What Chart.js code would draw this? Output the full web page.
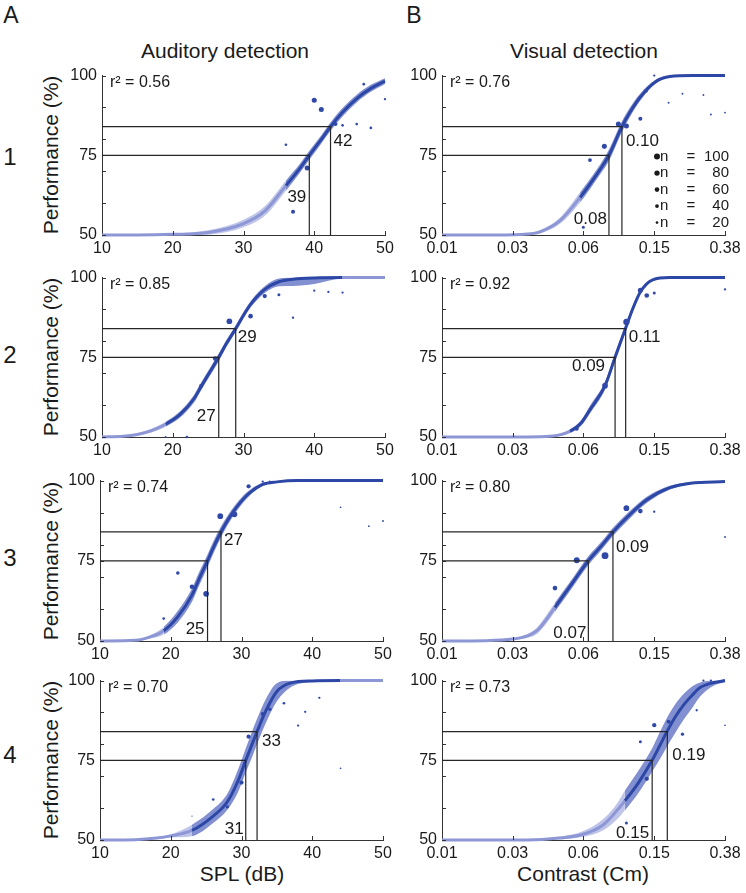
<!doctype html>
<html lang="en">
<head>
<meta charset="utf-8">
<title>Auditory and visual detection</title>
<script src="https://cdn.jsdelivr.net/npm/chart.js"></script>
<style>
  body { margin: 0; background: #fff; width: 746px; height: 893px; position: relative; overflow: hidden;
         font-family: "Liberation Sans", Arial, sans-serif; color: #1a1a1a; }
  .t { position: absolute; white-space: nowrap; transform: translate(-50%, -50%); line-height: 1; }
  .rot { transform: translate(-50%, -50%) rotate(-90deg); }
  canvas { position: absolute; }
</style>
</head>
<body>
<div class="t" style="left:11px;top:15px;font-size:23px">A</div>
<div class="t" style="left:414px;top:15px;font-size:23px">B</div>
<div class="t" style="left:225px;top:50px;font-size:21px">Auditory detection</div>
<div class="t" style="left:584px;top:50px;font-size:21px">Visual detection</div>

<div class="t" style="left:10px;top:157px;font-size:24px">1</div>
<div class="t" style="left:10px;top:355px;font-size:24px">2</div>
<div class="t" style="left:10px;top:558px;font-size:24px">3</div>
<div class="t" style="left:10px;top:755px;font-size:24px">4</div>

<div class="t rot" style="left:50px;top:155px;font-size:21px">Performance (%)</div>
<div class="t rot" style="left:50px;top:357px;font-size:21px">Performance (%)</div>
<div class="t rot" style="left:50px;top:561px;font-size:21px">Performance (%)</div>
<div class="t rot" style="left:50px;top:760px;font-size:21px">Performance (%)</div>

<div class="t" style="left:242px;top:873px;font-size:21px">SPL (dB)</div>
<div class="t" style="left:583px;top:873px;font-size:21px">Contrast (Cm)</div>

<script>
// ---- axes ----
var audTicks = [10, 20, 30, 40, 50];
var visTicks = [0.01, 0.0248, 0.0616, 0.153, 0.38];
var visTickLabels = ['0.01', '0.03', '0.06', '0.15', '0.38'];
var yTicks = [50, 60, 70, 75, 80, 90, 100];
var yTickLabels = ['50', '', '', '75', '', '', '100'];
var levels = [75, 84];

// ---- A1 ----
var a1PtX = [36, 37, 39, 40, 41, 43, 44, 46, 47, 48, 50];
var a1PtY = [78.3, 57.3, 71.0, 92.3, 89.4, 84.8, 84.4, 84.8, 97.3, 83.6, 92.6];
var a1PtN = [20, 45, 70, 70, 70, 45, 20, 20, 20, 20, 15];
var a1FitX = [10, 15, 20, 25, 30, 33, 36, 38, 39.3, 41, 42.3, 44, 46, 48, 50];
var a1Fit = [50, 50, 50.2, 50.8, 53.6, 57.5, 65.5, 71, 75, 80, 84, 88.5, 92.8, 96, 98.3];
var a1Lo = [49.9, 49.9, 49.9, 50.1, 52.4, 56, 63.9, 69.6, 73.6, 78.7, 82.7, 87.2, 91.6, 94.9, 97.4];
var a1Hi = [50.1, 50.1, 50.5, 51.5, 54.8, 59, 67.1, 72.4, 76.4, 81.3, 85.3, 89.8, 94, 97.1, 99.2];
var a1Thr = [39.3, 42.3];
var a1ThrText = ['39', '42'];

// ---- A2 ----
var a2PtX = [19, 22, 24, 26, 28, 31, 33, 35, 37, 40, 42, 44];
var a2PtY = [50, 50, 66.0, 74.6, 86.3, 87.9, 94.2, 94.6, 87.4, 95.9, 95.5, 95.3];
var a2PtN = [10, 20, 45, 60, 90, 60, 50, 25, 15, 15, 15, 15];
var a2FitX = [10, 13, 15, 17, 19, 21, 23, 24, 25, 26.5, 27.5, 28.9, 30, 31, 33, 35, 37, 40, 44, 50];
var a2Fit = [50, 50.2, 50.8, 52, 54, 57, 62, 65.8, 69.5, 75, 79, 84, 88.2, 91.6, 96.3, 98.7, 99.5, 99.9, 100, 100];
var a2Lo = [49.9, 50, 50.4, 51.4, 53.2, 56, 60.8, 64.6, 68.3, 73.8, 77.9, 83, 87.2, 90.6, 95.2, 97.3, 97.4, 98, 99.7, 99.9];
var a2Hi = [50.1, 50.4, 51.2, 52.6, 54.8, 58, 63.2, 67, 70.7, 76.2, 80.1, 85, 89.2, 92.6, 97.3, 99.7, 100, 100, 100, 100];
var a2Thr = [26.5, 28.9];
var a2ThrText = ['27', '29'];

// ---- A3 ----
var a3PtX = [19, 21, 23, 25, 27, 29, 31, 33, 34, 44, 48, 50];
var a3PtY = [57.0, 71.2, 66.9, 64.7, 88.9, 89.5, 98.2, 99.7, 99.7, 91.7, 85.8, 87.4];
var a3PtN = [20, 35, 60, 90, 90, 90, 50, 15, 10, 8, 8, 10];
var a3FitX = [10, 15, 17, 19, 21, 23, 24, 25.2, 26, 27.1, 29, 31, 33, 35, 38, 50];
var a3Fit = [50, 50.2, 51.2, 53.2, 57.6, 64.3, 69.3, 75, 79, 84, 90.8, 95.9, 98.8, 99.6, 100, 100];
var a3Lo = [49.9, 50, 50.7, 52, 55.8, 62.2, 67.2, 73, 77.1, 82.3, 89.5, 95, 98.3, 99.4, 99.9, 100];
var a3Hi = [50.1, 50.4, 51.7, 54.4, 59.4, 66.4, 71.4, 77, 80.9, 85.7, 92.1, 96.8, 99.3, 99.9, 100, 100];
var a3Thr = [25.2, 27.1];
var a3ThrText = ['25', '27'];

// ---- A4 ----
var a4PtX = [23, 26, 28, 30, 31, 33, 34, 36, 38, 39, 41, 44];
var a4PtY = [57.5, 62.7, 60.4, 68.0, 82.4, 89.5, 91.0, 92.9, 85.9, 90.2, 94.6, 72.5];
var a4PtN = [5, 20, 30, 50, 50, 45, 35, 20, 15, 15, 15, 8];
var a4FitX = [10, 15, 18, 20, 23, 26, 28, 29.5, 30.6, 31.4, 32.2, 33.5, 35, 37, 40, 44, 50];
var a4Fit = [50, 50.1, 50.6, 51.3, 53, 57.5, 62, 68.5, 75, 79.5, 84, 90.8, 96.6, 99.3, 99.9, 100, 100];
var a4Lo = [50, 50, 50.3, 50.8, 51.2, 55.3, 59.5, 65, 71.2, 75.5, 80, 87, 93.5, 98, 99.6, 99.9, 100];
var a4Hi = [50, 50.2, 50.9, 51.8, 54.8, 59.7, 64.5, 72, 78.8, 83.5, 88, 94.5, 99.2, 100, 100, 100, 100];
var a4Thr = [30.6, 32.2];
var a4ThrText = ['31', '33'];

// ---- B1 ----
var b1PtX = [0.0615, 0.067, 0.0806, 0.0965, 0.107, 0.128, 0.138, 0.153, 0.184, 0.22, 0.288, 0.317, 0.38];
var b1PtY = [52.4, 73.5, 77.8, 84.8, 84.2, 86.5, 95.2, 100, 91.5, 94.3, 93.9, 87.8, 88.4];
var b1PtN = [25, 40, 70, 70, 70, 45, 30, 15, 10, 10, 10, 10, 10];
var b1FitX = [0.01, 0.02, 0.03, 0.0352, 0.0456, 0.059, 0.0762, 0.0855, 0.101, 0.112, 0.128, 0.155, 0.187, 0.25, 0.38];
var b1Fit = [50, 50, 50.3, 51, 54.5, 61.8, 70.5, 75, 84, 88.5, 93.3, 98, 99.7, 100, 100];
var b1Lo = [50, 50, 50.1, 50.5, 53.5, 60.2, 69, 73.2, 82.3, 87, 92.2, 97.4, 99.4, 99.9, 99.9];
var b1Hi = [50, 50.1, 50.6, 51.5, 55.5, 63.4, 72, 76.8, 85.7, 90, 94.4, 98.6, 100, 100, 100];
var b1Thr = [0.0855, 0.101];
var b1ThrText = ['0.08', '0.10'];

// ---- B2 ----
var b2PtX = [0.0565, 0.0813, 0.107, 0.128, 0.139, 0.153, 0.38];
var b2PtY = [52.6, 66.1, 86.1, 96.0, 94.4, 95.2, 96.3];
var b2PtN = [45, 90, 110, 70, 60, 25, 15];
var b2FitX = [0.01, 0.03, 0.04, 0.0518, 0.06, 0.067, 0.0813, 0.0925, 0.106, 0.117, 0.128, 0.15, 0.187, 0.25, 0.38];
var b2Fit = [50, 50, 50.2, 51.8, 54.5, 58.6, 66.1, 75, 84.2, 90.7, 95.5, 99.3, 100, 100, 100];
var b2Lo = [50, 50, 50, 51.2, 53.6, 57.4, 64.9, 73.8, 83, 89.7, 94.8, 99, 99.9, 100, 100];
var b2Hi = [50, 50, 50.4, 52.4, 55.4, 59.8, 67.3, 76.2, 85.4, 91.7, 96.2, 99.6, 100, 100, 100];
var b2Thr = [0.0925, 0.106];
var b2ThrText = ['0.09', '0.11'];

// ---- B3 ----
var b3PtX = [0.0427, 0.0565, 0.0813, 0.107, 0.128, 0.139, 0.153, 0.38];
var b3PtY = [66.5, 75.2, 76.6, 91.4, 90.5, 94.0, 90.3, 82.4];
var b3PtN = [60, 100, 130, 90, 60, 30, 15, 10];
var b3FitX = [0.01, 0.0175, 0.0248, 0.03, 0.0339, 0.038, 0.0427, 0.0518, 0.0656, 0.078, 0.09, 0.109, 0.139, 0.187, 0.244, 0.38];
var b3Fit = [50, 50.1, 50.6, 51.6, 53.2, 56.5, 60.5, 67, 75, 79.8, 84, 88.8, 94, 97.8, 99.2, 99.7];
var b3Lo = [49.9, 50, 50.3, 51, 52.2, 55.2, 59.1, 65.6, 73.6, 78.5, 82.7, 87.6, 93, 97.2, 98.9, 99.5];
var b3Hi = [50.1, 50.2, 50.9, 52.2, 54.2, 57.8, 61.9, 68.4, 76.4, 81.1, 85.3, 90, 95, 98.4, 99.5, 99.9];
var b3Thr = [0.0656, 0.090];
var b3ThrText = ['0.07', '0.09'];

// ---- B4 ----
var b4PtX = [0.107, 0.128, 0.139, 0.153, 0.184, 0.22, 0.264, 0.288, 0.317, 0.38];
var b4PtY = [55.3, 80.8, 69.2, 86.0, 87.1, 83.2, 90.7, 100, 100, 86.0];
var b4PtN = [25, 25, 50, 50, 45, 30, 15, 15, 15, 8];
var b4FitX = [0.01, 0.03, 0.045, 0.0615, 0.0792, 0.095, 0.105, 0.124, 0.149, 0.165, 0.181, 0.2, 0.225, 0.25, 0.276, 0.33, 0.38];
var b4Fit = [50, 50, 50.6, 51.8, 54.7, 59.3, 62.3, 67.7, 75, 79.8, 84.2, 88.5, 92.6, 95.5, 97.8, 99.4, 100];
var b4Lo = [50, 50, 50.2, 51, 53, 56.5, 59.3, 64.5, 71.5, 75.5, 79.5, 83.5, 88, 91.5, 95, 98.5, 99.5];
var b4Hi = [50, 50, 51, 52.8, 56.5, 61.5, 65.5, 71.5, 78.8, 84, 88.5, 92.5, 96, 98.2, 99.4, 100, 100];
var b4Thr = [0.149, 0.181];
var b4ThrText = ['0.15', '0.19'];

var r2Text = ['0.56', '0.76', '0.85', '0.92', '0.74', '0.80', '0.70', '0.73'];
var legendN = [100, 80, 60, 40, 20];

// ---- styles / layout ----
var FONT = '"Liberation Sans", Arial, sans-serif';
var DARK_LINE = '#2c47a5';
var LIGHT_LINE = '#8e97d5';
var DARK_BAND = '#8290d2';
var LIGHT_BAND = '#bfc5e9';
var POINT = '#3049a8';
var AXIS = '#333333';
var YW = 60, XH = 32, PADT = 14, PADR = 24;

function radius(n) { return 0.3 * Math.sqrt(n); }
function pts(xs, ys) { return xs.map(function (x, i) { return {x: x, y: ys[i]}; }); }

var panels = [
  {box: [102, 385, 75, 235], log: false, px: a1PtX, py: a1PtY, pn: a1PtN, fx: a1FitX, fy: a1Fit, lo: a1Lo, hi: a1Hi,
   thr: a1Thr, thrText: a1ThrText, dark: [36, 50], labY: [61.7, 79.5], labDx: [-3, 3], r2: r2Text[0]},
  {box: [442, 725, 75, 235], log: true, px: b1PtX, py: b1PtY, pn: b1PtN, fx: b1FitX, fy: b1Fit, lo: b1Lo, hi: b1Hi,
   thr: b1Thr, thrText: b1ThrText, dark: [0.059, 0.38], labY: [55, 79.5], labDx: [-2, 4], r2: r2Text[1], legend: true},
  {box: [102, 385, 277, 437], log: false, px: a2PtX, py: a2PtY, pn: a2PtN, fx: a2FitX, fy: a2Fit, lo: a2Lo, hi: a2Hi,
   thr: a2Thr, thrText: a2ThrText, dark: [19, 44], labY: [56.5, 81.4], labDx: [-3, 2], r2: r2Text[2]},
  {box: [442, 725, 277, 437], log: true, px: b2PtX, py: b2PtY, pn: b2PtN, fx: b2FitX, fy: b2Fit, lo: b2Lo, hi: b2Hi,
   thr: b2Thr, thrText: b2ThrText, dark: [0.0518, 0.38], labY: [72.3, 81.2], labDx: [-10, 3], r2: r2Text[3]},
  {box: [100, 383, 480, 641], log: false, px: a3PtX, py: a3PtY, pn: a3PtN, fx: a3FitX, fy: a3Fit, lo: a3Lo, hi: a3Hi,
   thr: a3Thr, thrText: a3ThrText, dark: [19, 50], labY: [53.6, 81.4], labDx: [-3, 3], r2: r2Text[4]},
  {box: [442, 725, 480, 641], log: true, px: b3PtX, py: b3PtY, pn: b3PtN, fx: b3FitX, fy: b3Fit, lo: b3Lo, hi: b3Hi,
   thr: b3Thr, thrText: b3ThrText, dark: [0.0427, 0.38], labY: [52.5, 79.3], labDx: [-2, 3], r2: r2Text[5]},
  {box: [100, 383, 680, 840], log: false, px: a4PtX, py: a4PtY, pn: a4PtN, fx: a4FitX, fy: a4Fit, lo: a4Lo, hi: a4Hi,
   thr: a4Thr, thrText: a4ThrText, dark: [23, 44], labY: [53.3, 80.9], labDx: [-2, 5], r2: r2Text[6]},
  {box: [442, 725, 680, 840], log: true, px: b4PtX, py: b4PtY, pn: b4PtN, fx: b4FitX, fy: b4Fit, lo: b4Lo, hi: b4Hi,
   thr: b4Thr, thrText: b4ThrText, dark: [0.105, 0.38], labY: [52, 76.6], labDx: [-3, 5], r2: r2Text[7]}
];

// inward ticks, threshold guides, labels, r2 and the n-legend
var extras = {
  id: 'extras',
  afterDatasetsDraw: function (chart, args, o) {
    var ctx = chart.ctx, a = chart.chartArea, x = chart.scales.x, y = chart.scales.y;
    ctx.save();
    ctx.strokeStyle = AXIS;
    ctx.lineWidth = 1;
    ctx.beginPath();
    y.ticks.forEach(function (t) {
      var py = Math.round(y.getPixelForValue(t.value)) + 0.5;
      ctx.moveTo(a.left, py); ctx.lineTo(a.left + 4, py);
    });
    x.ticks.forEach(function (t, i) {
      if (i === 0) return;
      var px = Math.round(x.getPixelForValue(t.value)) + 0.5;
      ctx.moveTo(px, a.bottom); ctx.lineTo(px, a.bottom - 4);
    });
    ctx.stroke();

    ctx.strokeStyle = '#262626';
    ctx.lineWidth = 1.2;
    ctx.beginPath();
    o.thr.forEach(function (tx, i) {
      var px = x.getPixelForValue(tx), py = y.getPixelForValue(levels[i]);
      ctx.moveTo(a.left, py); ctx.lineTo(px, py); ctx.lineTo(px, a.bottom);
    });
    ctx.stroke();

    ctx.fillStyle = '#1a1a1a';
    ctx.textBaseline = 'middle';
    ctx.font = '17px ' + FONT;
    ctx.textAlign = 'right';
    ctx.fillText(o.thrText[0], x.getPixelForValue(o.thr[0]) + o.labDx[0], y.getPixelForValue(o.labY[0]));
    ctx.textAlign = 'left';
    ctx.fillText(o.thrText[1], x.getPixelForValue(o.thr[1]) + o.labDx[1], y.getPixelForValue(o.labY[1]));

    ctx.font = '16px ' + FONT;
    ctx.fillText('r\u00b2 = ' + o.r2, a.left + 8, a.top + 7);

    if (o.legend) {
      ctx.font = '15px ' + FONT;
      legendN.forEach(function (n, i) {
        var ly = a.top + 81 + i * 16.5;
        ctx.fillStyle = '#1a1a1a';
        ctx.beginPath();
        ctx.arc(a.right - 68, ly, radius(n), 0, Math.PI * 2);
        ctx.fill();
        ctx.textAlign = 'left';
        ctx.fillText('n', a.right - 65, ly);
        ctx.textAlign = 'center';
        ctx.fillText('=', a.right - 34, ly);
        ctx.textAlign = 'right';
        ctx.fillText(String(n), a.right + 4, ly);
      });
    }
    ctx.restore();
  }
};

panels.forEach(function (p) {
  var l = p.box[0], r = p.box[1], t = p.box[2], b = p.box[3];
  var cv = document.createElement('canvas');
  cv.width = (r - l) + YW + PADR;
  cv.height = (b - t) + PADT + XH;
  cv.style.left = (l - YW) + 'px';
  cv.style.top = (t - PADT) + 'px';
  document.body.appendChild(cv);

  var inDark = function (c) {
    return c.p0.parsed.x >= p.dark[0] - 1e-9 && c.p1.parsed.x <= p.dark[1] + 1e-9;
  };
  var xTicks = p.log ? visTicks : audTicks;

  new Chart(cv, {
    type: 'line',
    data: {
      datasets: [
        {type: 'scatter', data: pts(p.px, p.py), pointRadius: p.pn.map(radius), pointBackgroundColor: POINT,
         pointBorderWidth: 0, clip: false, order: 0},
        {data: pts(p.fx, p.fy), borderColor: DARK_LINE, borderWidth: 3, pointRadius: 0, fill: false,
         cubicInterpolationMode: 'monotone', clip: false, order: 1,
         segment: {borderColor: function (c) { return inDark(c) ? DARK_LINE : LIGHT_LINE; }}},
        {data: pts(p.fx, p.lo), borderWidth: 0, pointRadius: 0, fill: false,
         cubicInterpolationMode: 'monotone', order: 2},
        {data: pts(p.fx, p.hi), borderWidth: 0, pointRadius: 0, fill: '-1', backgroundColor: DARK_BAND,
         cubicInterpolationMode: 'monotone', order: 3,
         segment: {backgroundColor: function (c) { return inDark(c) ? DARK_BAND : LIGHT_BAND; }}}
      ]
    },
    options: {
      responsive: false,
      animation: false,
      events: [],
      layout: {padding: {left: 0, top: PADT, right: PADR, bottom: 0}},
      plugins: {
        legend: {display: false},
        tooltip: {enabled: false},
        extras: p
      },
      scales: {
        x: {
          type: p.log ? 'logarithmic' : 'linear',
          min: xTicks[0], max: xTicks[xTicks.length - 1],
          afterBuildTicks: function (s) { s.ticks = xTicks.map(function (v) { return {value: v}; }); },
          afterFit: function (s) { s.height = XH; },
          grid: {display: false, drawTicks: false},
          border: {display: true, color: AXIS, width: 1},
          ticks: {
            autoSkip: false, maxRotation: 0, padding: 4, color: '#1a1a1a',
            font: {family: FONT, size: 16},
            callback: function (v, i) { return p.log ? visTickLabels[i] : String(audTicks[i]); }
          }
        },
        y: {
          type: 'linear', min: 50, max: 100,
          afterBuildTicks: function (s) { s.ticks = yTicks.map(function (v) { return {value: v}; }); },
          afterFit: function (s) { s.width = YW; },
          grid: {display: false, drawTicks: false},
          border: {display: true, color: AXIS, width: 1},
          ticks: {
            autoSkip: false, padding: 5, color: '#1a1a1a',
            font: {family: FONT, size: 16},
            callback: function (v, i) { return yTickLabels[i]; }
          }
        }
      }
    },
    plugins: [extras]
  });
});
</script>
</body>
</html>
